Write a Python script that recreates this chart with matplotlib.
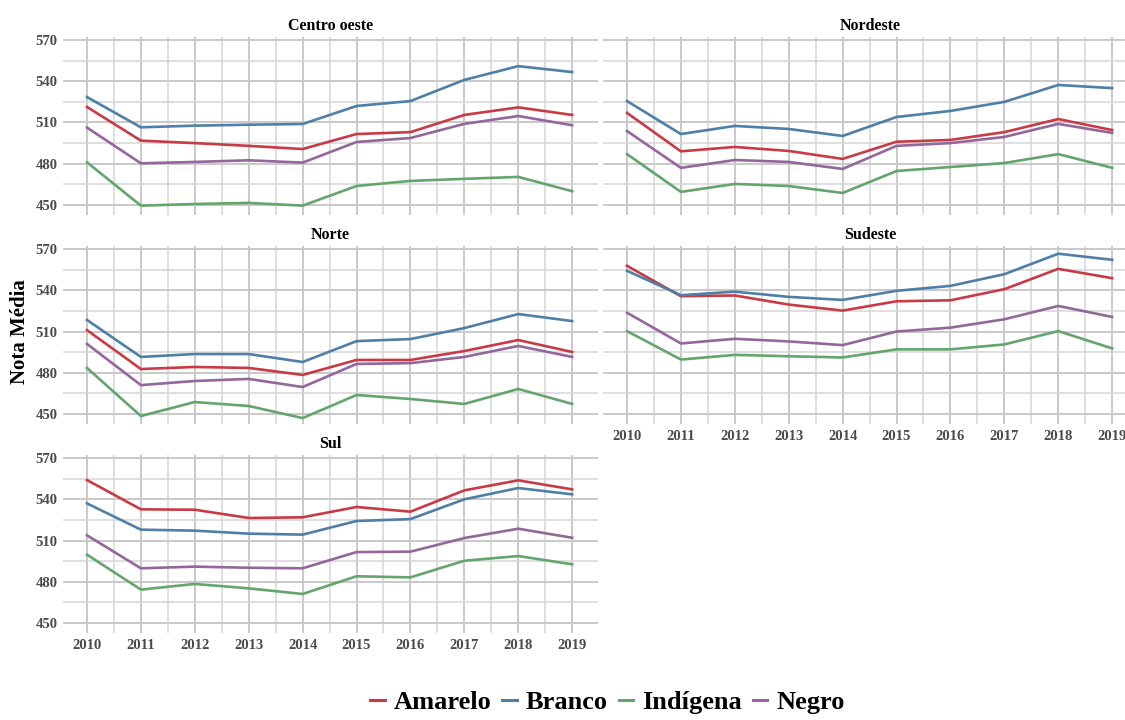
import matplotlib
matplotlib.use('Agg')
import matplotlib.pyplot as plt
import numpy as np
from matplotlib.ticker import MultipleLocator

plt.rcParams['font.family'] = ['Liberation Serif', 'DejaVu Serif']
plt.rcParams['font.weight'] = 'bold'

years = list(range(2010, 2020))
groups = ['Amarelo', 'Branco', 'Indígena', 'Negro']
colors = ['#c83a45', '#4f7ea6', '#63a56c', '#93679b']

# mean score per region, one list per group (same order as groups)
centro_oeste = [
    [521.3, 496.8, 495.0, 493.0, 490.7, 501.6, 503.0, 515.5, 521.0, 515.5],
    [528.5, 506.5, 507.7, 508.4, 508.9, 522.0, 525.6, 541.0, 551.0, 546.7],
    [481.0, 449.5, 450.7, 451.5, 449.5, 463.8, 467.5, 469.0, 470.4, 460.0],
    [506.3, 480.3, 481.3, 482.5, 480.8, 495.8, 498.7, 509.0, 514.7, 508.0],
]
nordeste = [
    [517.0, 489.0, 492.2, 489.3, 483.5, 496.0, 497.3, 503.0, 512.5, 504.5],
    [525.6, 501.6, 507.5, 505.3, 500.2, 514.0, 518.4, 525.0, 537.3, 535.0],
    [487.0, 459.5, 465.3, 463.8, 458.7, 474.7, 477.6, 480.5, 487.0, 477.0],
    [503.8, 477.0, 482.7, 481.3, 476.2, 493.0, 495.0, 499.5, 509.0, 502.4],
]
norte = [
    [511.0, 482.7, 484.2, 483.5, 478.4, 489.3, 489.3, 495.8, 503.8, 495.1],
    [518.4, 491.5, 493.6, 493.6, 487.8, 503.0, 504.5, 512.5, 522.7, 517.6],
    [483.5, 448.5, 458.7, 455.8, 447.0, 463.8, 460.9, 457.3, 468.2, 457.3],
    [501.0, 471.0, 474.0, 475.5, 469.6, 486.4, 487.0, 491.5, 499.5, 491.5],
]
sudeste = [
    [557.8, 535.7, 536.2, 529.6, 525.2, 532.0, 532.7, 540.8, 555.6, 548.8],
    [554.2, 536.4, 539.0, 535.2, 533.0, 539.6, 543.2, 551.7, 566.6, 562.2],
    [510.3, 489.6, 493.0, 492.0, 491.1, 497.0, 497.0, 500.6, 510.3, 497.7],
    [523.7, 501.3, 504.7, 502.8, 500.1, 510.0, 512.8, 518.9, 528.6, 520.6],
]
sul = [
    [554.0, 532.7, 532.4, 526.4, 526.9, 534.4, 531.0, 546.5, 553.8, 547.2],
    [537.0, 517.9, 517.2, 515.0, 514.3, 524.2, 525.6, 540.0, 548.2, 543.6],
    [499.7, 474.3, 478.4, 475.2, 471.1, 484.0, 483.2, 495.3, 498.7, 492.7],
    [513.8, 489.8, 491.0, 490.2, 489.8, 501.6, 501.9, 511.8, 518.6, 512.0],
]

regions = ['Centro oeste', 'Nordeste', 'Norte', 'Sudeste', 'Sul']
values = [centro_oeste, nordeste, norte, sudeste, sul]

fig = plt.figure(figsize=(11.25, 7.2), dpi=100)

# panel boxes [left, bottom, width, height]; right column runs past the edge
w, h = 0.4756, 0.2472
boxes = [
    [0.056, 0.7014, w, h], [0.536, 0.7014, w, h],
    [0.056, 0.4111, w, h], [0.536, 0.4111, w, h],
    [0.056, 0.1208, w, h],
]
with_xlabels = ['Sudeste', 'Sul']
right_col = ['Nordeste', 'Sudeste']

for name, vals, box in zip(regions, values, boxes):
    ax = fig.add_axes(box)
    for i, g in enumerate(groups):
        ax.plot(years, vals[i], color=colors[i], lw=1.9, label=g, zorder=3)
    ax.set_xlim(2009.555, 2019.48)
    ax.set_ylim(442.7, 572.2)
    ax.set_xticks(years)
    ax.set_yticks([450, 480, 510, 540, 570])
    ax.xaxis.set_minor_locator(MultipleLocator(0.5))
    ax.yaxis.set_minor_locator(MultipleLocator(15))
    ax.grid(which='major', color='#c9c9c9', lw=1.4)
    ax.grid(which='minor', color='#d6d6d6', lw=1.1)
    ax.set_axisbelow(True)
    for s in ax.spines.values():
        s.set_visible(False)
    ax.tick_params(which='both', length=0, labelsize=10.5, labelcolor='#4a4a4a', pad=4)
    if name not in with_xlabels:
        ax.set_xticklabels([])
    if name in right_col:
        ax.set_yticklabels([])
    ax.set_title(name, fontsize=11.5, fontweight='bold', pad=5)

fig.text(0.018, 0.54, 'Nota Média', rotation=90, ha='center', va='center',
         fontsize=15, fontweight='bold')

handles, labels = ax.get_legend_handles_labels()
leg = fig.legend(handles, labels, loc='center', bbox_to_anchor=(0.54, 0.024), ncol=4,
                 frameon=False, handlelength=0.55, handletextpad=0.35, columnspacing=0.4,
                 borderpad=0.1, prop={'size': 19, 'weight': 'bold'})
for line in leg.get_lines():
    line.set_linewidth(2.2)

fig.savefig('out.png', dpi=100)
